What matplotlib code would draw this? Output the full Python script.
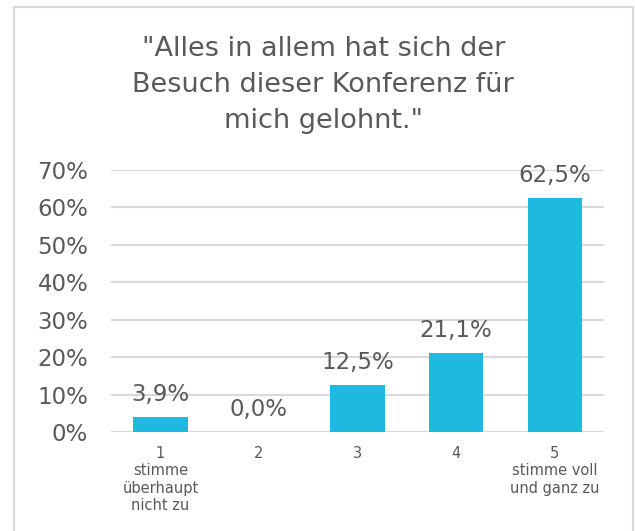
import matplotlib
matplotlib.use("Agg")
import matplotlib.pyplot as plt
from matplotlib.patches import Rectangle

categories = ["1\nstimme\nüberhaupt\nnicht zu", "2", "3", "4", "5\nstimme voll\nund ganz zu"]
values = [3.9, 0.0, 12.5, 21.1, 62.5]
yticks = [0, 10, 20, 30, 40, 50, 60, 70]
title = '"Alles in allem hat sich der\nBesuch dieser Konferenz für\nmich gelohnt."'

plt.rcParams['font.family'] = ['DejaVu Sans']
gray = '#595959'
bar_color = '#1EB9DE'
grid_color = '#D9D9D9'

fig = plt.figure(figsize=(6.35, 5.31), dpi=100)
ax = fig.add_axes([0.175, 0.1864, 0.776, 0.4936])

# chart border
fig.patches.append(Rectangle((0.022, -0.02), 0.975, 1.007, transform=fig.transFigure,
                             fill=False, edgecolor=grid_color, linewidth=1.5))

x = range(len(values))
vals = [v / 100 for v in values]
bars = ax.bar(x, vals, width=0.55, color=bar_color, zorder=3)
for b, v in zip(bars, values):
    ax.annotate(f"{v:.1f}%".replace('.', ','), (b.get_x() + b.get_width() / 2, b.get_height()),
                xytext=(0, 8), textcoords='offset points', ha='center', va='bottom',
                fontsize=16.5, color=gray)

ax.set_xlim(-0.5, 4.5)
ax.set_ylim(0, 0.7)
ax.set_yticks([t / 100 for t in yticks])
ax.set_yticklabels([f"{t}%" for t in yticks], fontsize=16.5, color=gray)
ax.set_xticks(list(x))
ax.set_xticklabels(categories, fontsize=10.5, color=gray, linespacing=1.2, va='top')
ax.tick_params(axis='both', length=0)
ax.tick_params(axis='x', pad=10)
ax.tick_params(axis='y', pad=16.5)
ax.yaxis.grid(True, color=grid_color, linewidth=1.5, zorder=0)
ax.set_axisbelow(True)
for s in ax.spines.values():
    s.set_visible(False)

fig.text(0.509, 0.933, title, ha='center', va='top', fontsize=19.5, color=gray, linespacing=1.5)

fig.savefig("out.png", dpi=100)
